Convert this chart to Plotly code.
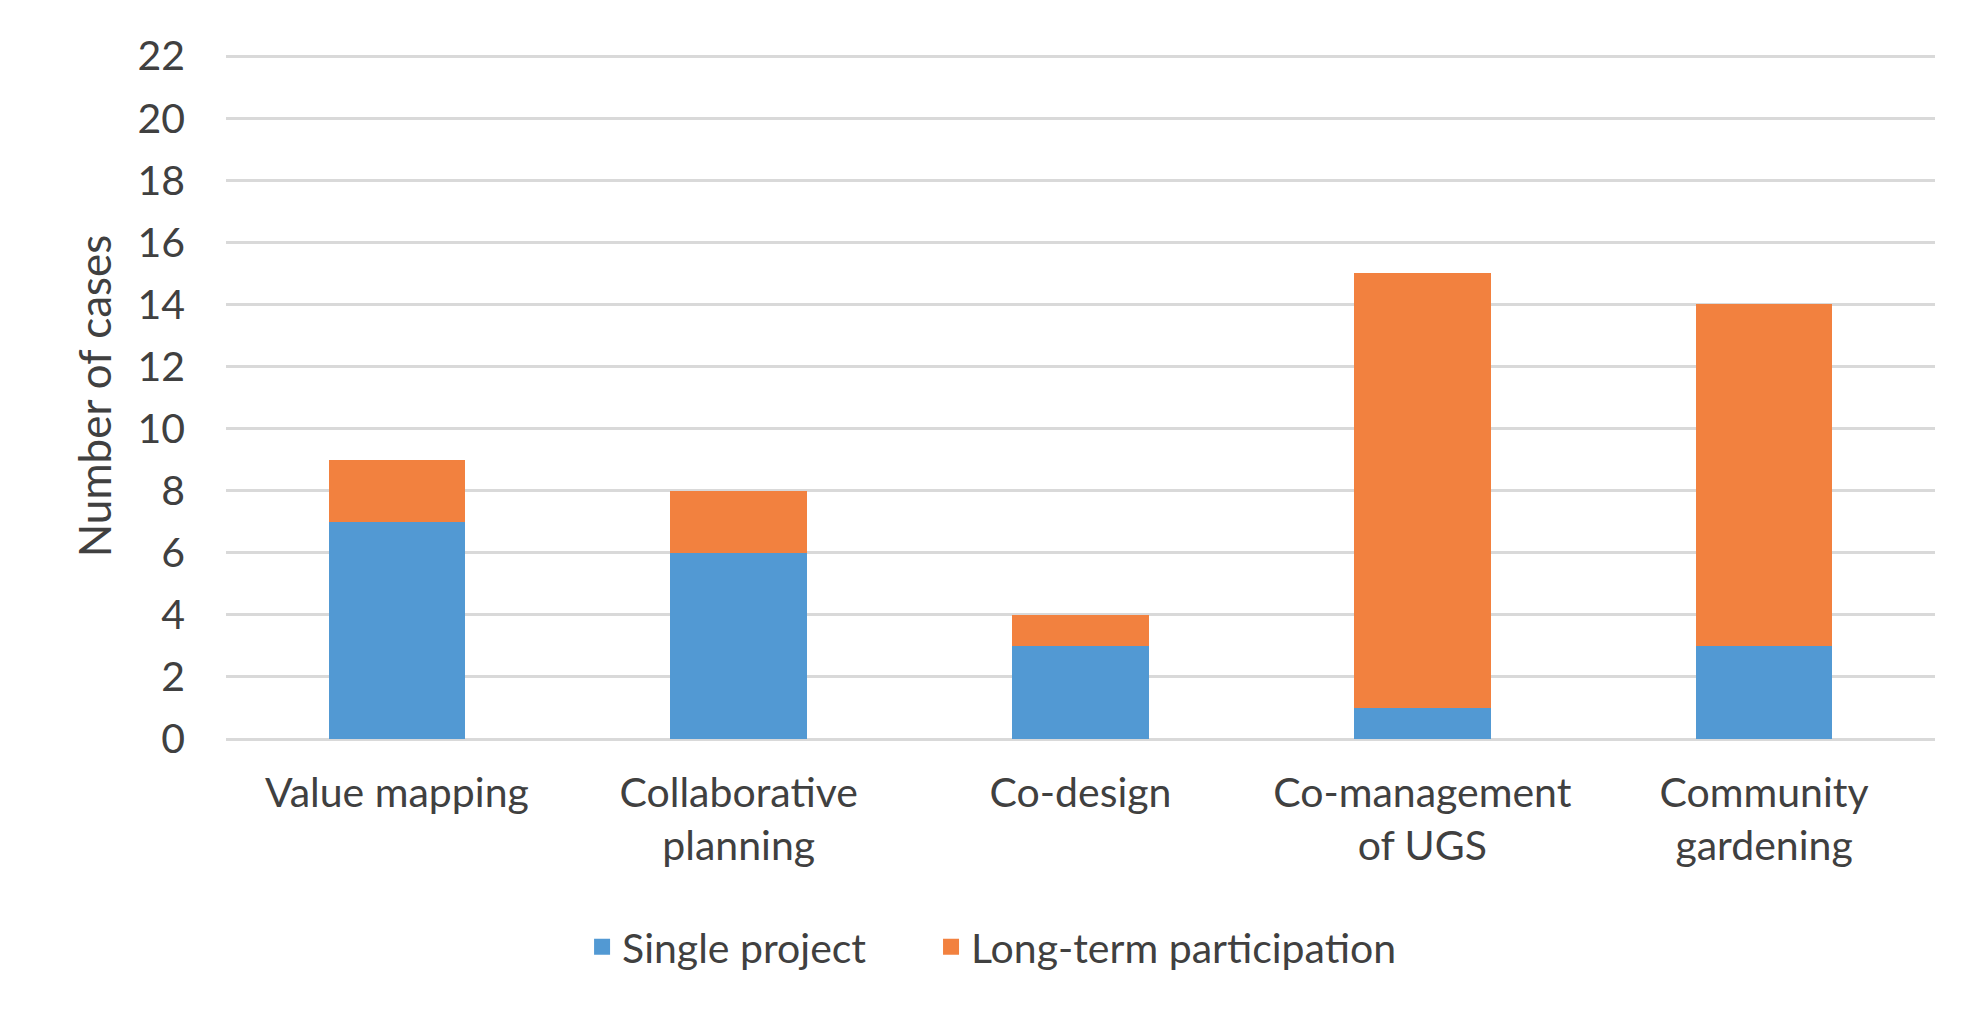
import plotly.graph_objects as go

categories = ["Value mapping", "Collaborative<br>planning", "Co-design",
              "Co-management<br>of UGS", "Community<br>gardening"]
single_project = [7, 6, 3, 1, 3]
long_term = [2, 2, 1, 14, 11]
series_names = ["Single project", "Long-term participation"]
y_ticks = list(range(0, 23, 2))

TEXT = "#404040"
FONT = "Lato"
BLUE = "#5299d3"
ORANGE = "#f2813f"

fig = go.Figure()
fig.add_trace(go.Bar(x=categories, y=single_project, name=series_names[0],
                     marker=dict(color=BLUE, line=dict(width=0)), showlegend=False))
fig.add_trace(go.Bar(x=categories, y=long_term, name=series_names[1],
                     marker=dict(color=ORANGE, line=dict(width=0)), showlegend=False))
# legend-only entries with square swatches (one legend box per entry for spacing)
for nm, col, lg in zip(series_names, [BLUE, ORANGE], ["legend", "legend2"]):
    fig.add_trace(go.Scatter(x=[categories[0]], y=[None], mode="markers", name=nm,
                             marker=dict(symbol="square", size=16, color=col),
                             hoverinfo="skip", legend=lg))

legend_common = dict(orientation="h", xref="container", yref="container",
                     xanchor="left", y=0.0675, yanchor="middle",
                     font=dict(size=41, color=TEXT), itemsizing="trace",
                     bgcolor="rgba(0,0,0,0)")

fig.update_layout(
    width=1966, height=1007,
    barmode="stack", bargap=0.6,
    plot_bgcolor="white", paper_bgcolor="white",
    margin=dict(l=218, r=39, t=45, b=276),
    font=dict(family=FONT, size=41, color=TEXT),
    showlegend=True,
    legend=dict(x=0.292, **legend_common),
    legend2=dict(x=0.4695, **legend_common),
    xaxis=dict(showgrid=False, showline=False, ticks="", ticklabelstandoff=26,
               tickfont=dict(size=41, color=TEXT)),
    yaxis=dict(range=[0, 22.1], tickvals=y_ticks, showgrid=True,
               gridcolor="#d9d9d9", gridwidth=2.5, zeroline=True,
               zerolinecolor="#d9d9d9", zerolinewidth=2.5, showline=False,
               ticks="", ticklabelstandoff=40,
               tickfont=dict(size=41, color=TEXT),
               title=dict(text="Number of cases", standoff=12,
                          font=dict(size=44, color=TEXT))),
)

fig.write_html("out.html")
